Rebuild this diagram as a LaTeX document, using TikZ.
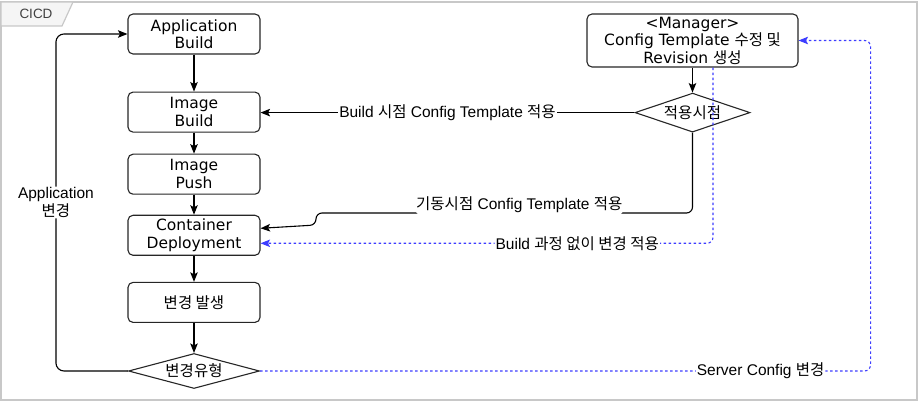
\documentclass[tikz,border=0pt]{standalone}
\usepackage{fontspec}
\setmainfont{DejaVu Sans}
\newfontfamily\kr{Noto Sans CJK KR}
\newfontfamily\lab{Liberation Sans}
\usetikzlibrary{positioning,arrows.meta,shapes.geometric}
\definecolor{edgeblue}{HTML}{3D3DFF}
\definecolor{framegray}{HTML}{C8C8C8}
\tikzset{
  stepbox/.style={draw=black!85,line width=1.1pt,rounded corners=5pt,fill=white,align=center,minimum width=132pt,minimum height=40pt,inner sep=1pt,font=\fontsize{15.5}{17.5}\selectfont},
  choice/.style={draw=black!85,line width=1.1pt,diamond,fill=white,inner sep=0pt,font=\kr\fontsize{15.5}{17.5}\selectfont},
  arr/.style={-{Stealth[length=9.5pt,width=7.5pt,inset=2pt]},line width=1.1pt},
  dotarr/.style={arr,draw=edgeblue,dash pattern=on 2.5pt off 2.5pt},
  lbl/.style={fill=white,align=center,inner sep=1pt,font=\lab\fontsize{15.5}{17.5}\selectfont},
}

\begin{document}
\begin{tikzpicture}[x=1pt,y=-1pt,node distance=20pt]
\useasboundingbox (0,0) rectangle (921,403);
\draw[framegray,line width=1.2pt] (1,2) rectangle (917,400);
\draw[framegray,line width=1.2pt,fill=black!4] (1,2) -- (73,2) -- (62,26) -- (1,26) -- cycle;
\node[text=black!75,font=\lab\fontsize{13.5}{15}\selectfont] (tab) at (36,14) {CICD};

\node[stepbox] (app) at (194,34) {Application\\Build};
\node[stepbox, below=37pt of app] (ibuild) {Image\\Build};
\node[stepbox, below=21pt of ibuild] (ipush) {Image\\Push};
\node[stepbox, below=20pt of ipush] (deploy) {Container\\Deployment};
\node[stepbox, below=26pt of deploy] (change) {\kr 변경 발생};
\node[choice, aspect=3.74, minimum width=131pt, minimum height=35pt, below=30pt of change] (kind) {변경유형};

\node[stepbox, minimum width=211pt, minimum height=53pt] (mgr) at (692.5,40.5) {<Manager>\\Config Template {\kr 수정 및}\\Revision {\kr 생성}};
\node[choice, aspect=2.95, minimum width=115pt, minimum height=39pt, below=25pt of mgr] (when) {적용시점};

\draw[arr] (app) -- (ibuild);
\draw[arr] (ibuild) -- (ipush);
\draw[arr] (ipush) -- (deploy);
\draw[arr] (deploy) -- (change);
\draw[arr] (change) -- (kind);
\draw[arr] (mgr) -- (when);
\draw[arr,rounded corners=8pt] (kind.west) -- ++(-72,0) |- (app.west) node[lbl,pos=0.25] (applbl) {Application\\{\kr 변경}};
\draw[arr] (when.west) -- (when.west -| ibuild.east) node[lbl,midway] (buildlbl) {Build {\kr 시점} Config Template {\kr 적용}};
\draw[arr,rounded corners=6pt] (when.south) |- (316,213) node[lbl,pos=0.73,yshift=8pt,inner ysep=2pt] (startlbl) {{\kr 기동시점} Config Template {\kr 적용}} -- (316,225) -- ([yshift=7pt]deploy.east);

\draw[dotarr,rounded corners=6pt] ([xshift=20.5pt]mgr.south) |- ([yshift=-8pt]deploy.east) node[lbl,pos=0.65] (nobuild) {Build {\kr 과정 없이 변경 적용}};
\draw[dotarr,rounded corners=6pt] (kind.east) -| ([xshift=72pt]mgr.east) node[lbl,pos=0.41] (srvlbl) {Server Config {\kr 변경}} -- (mgr.east);
\end{tikzpicture}
\end{document}
